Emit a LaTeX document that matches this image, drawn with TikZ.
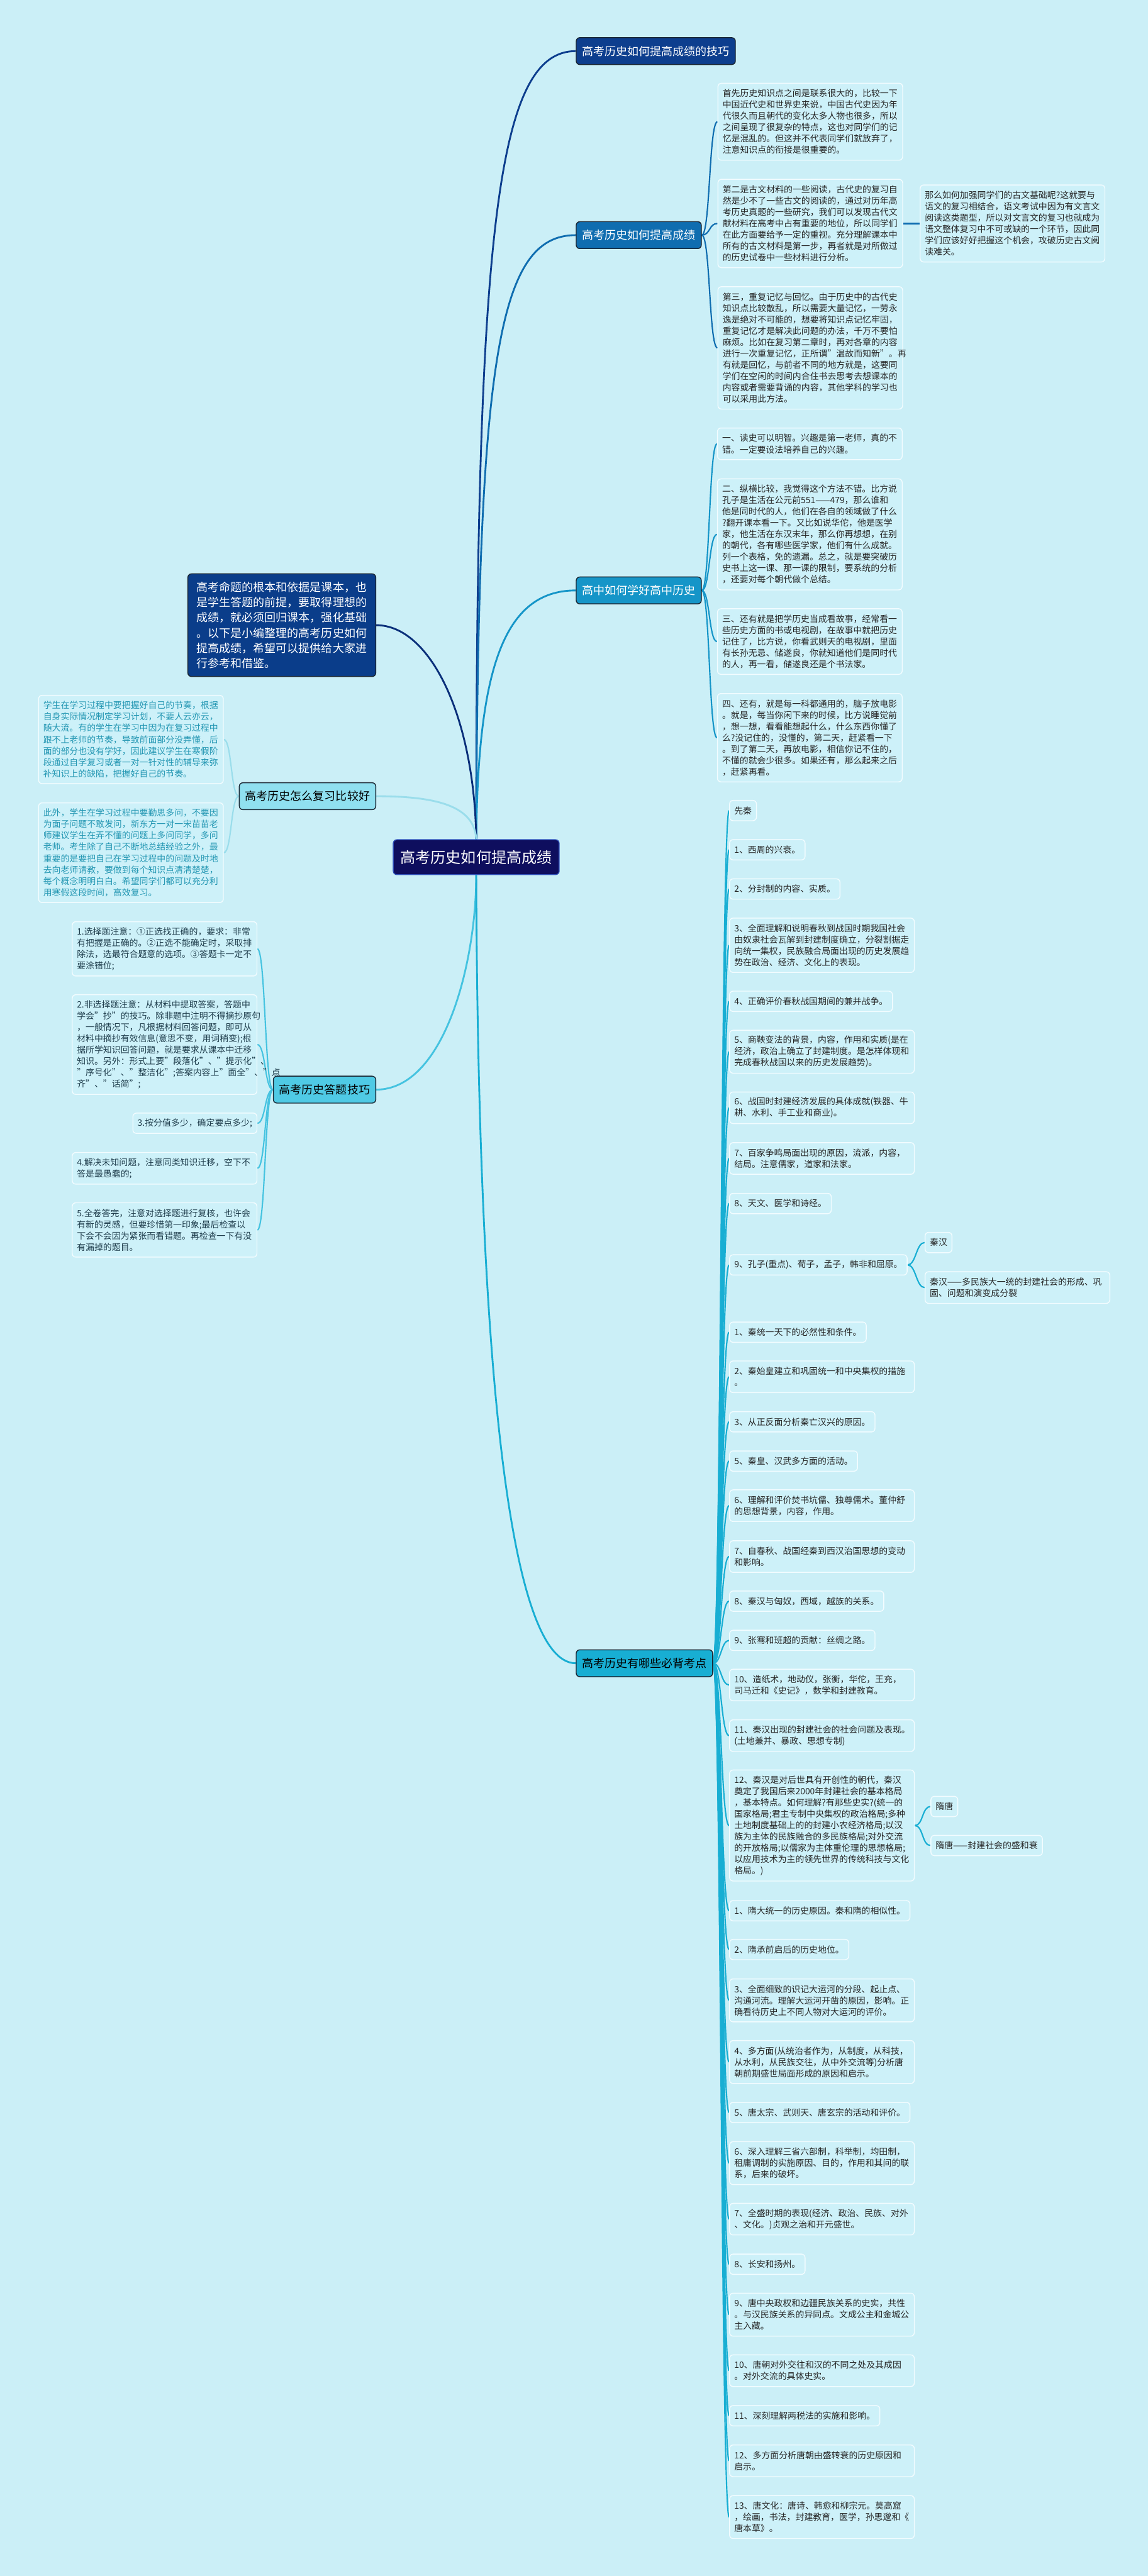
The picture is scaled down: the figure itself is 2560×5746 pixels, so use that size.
\documentclass[tikz,border=0pt]{standalone}
\usepackage{fontspec}
\setmainfont{Noto Sans CJK SC}
\usetikzlibrary{backgrounds}
\definecolor{bgc}{HTML}{CBEFF7}
\definecolor{leafbg}{HTML}{CDF1F9}
\definecolor{leafline}{HTML}{F2FCFF}
\definecolor{leaftxt}{HTML}{262626}
\definecolor{tealtxt}{HTML}{2497B3}
\definecolor{slatetxt}{HTML}{1F3D4C}
\definecolor{brline}{HTML}{1A2633}
\definecolor{ctrc}{HTML}{0E0E5E}
\definecolor{ctrline}{HTML}{2F4FB8}
\definecolor{bonec}{HTML}{0D3E8E}
\definecolor{introc}{HTML}{0A3D8A}
\definecolor{btwoc}{HTML}{0F6DB0}
\definecolor{bthreec}{HTML}{1595C8}
\definecolor{bfivec}{HTML}{18AED3}
\definecolor{bfourc}{HTML}{90E0F0}
\definecolor{bsixc}{HTML}{4FCAE5}
\definecolor{cfour}{HTML}{9ADDEB}
\definecolor{csix}{HTML}{45C3E0}
\definecolor{cintro}{HTML}{0A2F7A}
\newcommand\leaffont{\fontsize{19.5pt}{25.3pt}\selectfont}
\newcommand\brfont{\fontsize{25.3pt}{30pt}\selectfont}
\newcommand\introfont{\fontsize{25.3pt}{33.9pt}\selectfont}
\newcommand\ctrfont{\fontsize{33.8pt}{40pt}\selectfont}
\begin{document}
\begin{tikzpicture}[x=1pt,y=-1pt,
  lf/.style={draw=leafline, line width=2pt, rounded corners=8pt, fill=leafbg, text=leaftxt, font=\leaffont, inner xsep=10.5pt, inner ysep=0pt, align=left},
  lm/.style={lf, text width=391pt},
  r1/.style={minimum height=45.3pt},
  r2/.style={minimum height=70.6pt},
  r3/.style={minimum height=95.9pt},
  r4/.style={minimum height=121.2pt},
  r5/.style={minimum height=146.5pt},
  r6/.style={minimum height=171.8pt},
  r7/.style={minimum height=197.1pt},
  r8/.style={minimum height=222.4pt},
  r9/.style={minimum height=247.7pt},
  r10/.style={minimum height=273pt},
  br/.style={draw=brline, line width=2pt, rounded corners=8pt, font=\brfont, inner xsep=13pt, inner ysep=0pt, minimum height=60pt},
  conn/.style={line width=3pt},
  mconn/.style={line width=4pt}
]
\useasboundingbox (0,0) rectangle (2560,5746);

% ---------- center and branches ----------
\node[draw=ctrline, line width=2pt, rounded corners=8pt, fill=ctrc, text=white, font=\ctrfont, inner xsep=16pt, minimum height=78pt] (ctr) at (1062,1912) {高考历史如何提高成绩};

\node[br, fill=bonec, text=white, anchor=west] (b1) at (1284,114) {高考历史如何提高成绩的技巧};
\node[br, fill=btwoc, text=white, anchor=west] (b2) at (1284,524.5) {高考历史如何提高成绩};
\node[br, fill=bthreec, text=white, anchor=west] (b3) at (1284,1317) {高中如何学好高中历史};
\node[br, fill=bfivec, text=black, anchor=west] (b5) at (1284,3710) {高考历史有哪些必背考点};
\node[br, fill=bfourc, text=black, anchor=east] (b4) at (839,1776) {高考历史怎么复习比较好};
\node[br, fill=bsixc, text=black, anchor=east] (b6) at (839,2430.5) {高考历史答题技巧};

\node[draw=brline, line width=2pt, rounded corners=8pt, fill=introc, text=white, font=\introfont, text width=380pt, inner xsep=19.5pt, inner ysep=0pt, minimum height=229pt, align=left, anchor=east] (intro) at (839,1394.5) {高考命题的根本和依据是课本，也\\是学生答题的前提，要取得理想的\\成绩，就必须回归课本，强化基础\\。以下是小编整理的高考历史如何\\提高成绩，希望可以提供给大家进\\行参考和借鉴。};

% ---------- branch 2 leaves ----------
\node[lm, r6, anchor=west] (ta) at (1600,271.5) {首先历史知识点之间是联系很大的，比较一下\\中国近代史和世界史来说，中国古代史因为年\\代很久而且朝代的变化太多人物也很多，所以\\之间呈现了很复杂的特点，这也对同学们的记\\忆是混乱的。但这并不代表同学们就放弃了，\\注意知识点的衔接是很重要的。};
\node[lm, r7, anchor=west] (tb) at (1600,498.5) {第二是古文材料的一些阅读，古代史的复习自\\然是少不了一些古文的阅读的，通过对历年高\\考历史真题的一些研究，我们可以发现古代文\\献材料在高考中占有重要的地位，所以同学们\\在此方面要给予一定的重视。充分理解课本中\\所有的古文材料是第一步，再者就是对所做过\\的历史试卷中一些材料进行分析。};
\node[lm, r6, anchor=west] (tbx) at (2051,498.5) {那么如何加强同学们的古文基础呢?这就要与\\语文的复习相结合，语文考试中因为有文言文\\阅读这类题型，所以对文言文的复习也就成为\\语文整体复习中不可或缺的一个环节，因此同\\学们应该好好把握这个机会，攻破历史古文阅\\读难关。};
\node[lm, r10, anchor=west] (tc) at (1600,776) {第三，重复记忆与回忆。由于历史中的古代史\\知识点比较散乱，所以需要大量记忆，一劳永\\逸是绝对不可能的，想要将知识点记忆牢固，\\重复记忆才是解决此问题的办法，千万不要怕\\麻烦。比如在复习第二章时，再对各章的内容\\进行一次重复记忆，正所谓"温故而知新"。再\\有就是回忆，与前者不同的地方就是，这要同\\学们在空闲的时间内合住书去思考去想课本的\\内容或者需要背诵的内容，其他学科的学习也\\可以采用此方法。};

% ---------- branch 3 leaves ----------
\node[lm, r2, anchor=west] (ua) at (1599,990) {一、读史可以明智。兴趣是第一老师，真的不\\错。一定要设法培养自己的兴趣。};
\node[lm, r9, anchor=west] (ub) at (1599,1192) {二、纵横比较，我觉得这个方法不错。比方说\\孔子是生活在公元前551——479，那么谁和\\他是同时代的人，他们在各自的领域做了什么\\?翻开课本看一下。又比如说华佗，他是医学\\家，他生活在东汉末年，那么你再想想，在别\\的朝代，各有哪些医学家，他们有什么成就。\\列一个表格，免的遗漏。总之，就是要突破历\\史书上这一课、那一课的限制，要系统的分析\\，还要对每个朝代做个总结。};
\node[lm, r5, anchor=west] (uc) at (1599,1431) {三、还有就是把学历史当成看故事，经常看一\\些历史方面的书或电视剧，在故事中就把历史\\记住了，比方说，你看武则天的电视剧，里面\\有长孙无忌、储遂良，你就知道他们是同时代\\的人，再一看，储遂良还是个书法家。};
\node[lm, r7, anchor=west] (ud) at (1599,1645.5) {四、还有，就是每一科都通用的，脑子放电影\\。就是，每当你闲下来的时候，比方说睡觉前\\，想一想，看看能想起什么，什么东西你懂了\\么?没记住的，没懂的，第二天，赶紧看一下\\。到了第二天，再放电影，相信你记不住的，\\不懂的就会少很多。如果还有，那么起来之后\\，赶紧再看。};

% ---------- branch 4 leaves ----------
\node[lm, r7, text=tealtxt, anchor=west] (va) at (85,1649.5) {学生在学习过程中要把握好自己的节奏，根据\\自身实际情况制定学习计划，不要人云亦云，\\随大流。有的学生在学习中因为在复习过程中\\跟不上老师的节奏，导致前面部分没弄懂，后\\面的部分也没有学好，因此建议学生在寒假阶\\段通过自学复习或者一对一针对性的辅导来弥\\补知识上的缺陷，把握好自己的节奏。};
\node[lm, r8, text=tealtxt, anchor=west] (vb) at (85,1902) {此外，学生在学习过程中要勤思多问，不要因\\为面子问题不敢发问，新东方一对一宋苗苗老\\师建议学生在弄不懂的问题上多问同学，多问\\老师。考生除了自己不断地总结经验之外，最\\重要的是要把自己在学习过程中的问题及时地\\去向老师请教，要做到每个知识点清清楚楚，\\每个概念明明白白。希望同学们都可以充分利\\用寒假这段时间，高效复习。};

% ---------- branch 6 leaves ----------
\node[lm, r4, text=slatetxt, anchor=east] (wa) at (574,2116.5) {1.选择题注意：①正选找正确的，要求：非常\\有把握是正确的。②正选不能确定时，采取排\\除法，选最符合题意的选项。③答题卡一定不\\要涂错位;};
\node[lm, r8, text=slatetxt, anchor=east] (wb) at (574,2330) {2.非选择题注意：从材料中提取答案，答题中\\学会"抄"的技巧。除非题中注明不得摘抄原句\\，一般情况下，凡根据材料回答问题，即可从\\材料中摘抄有效信息(意思不变，用词稍变);根\\据所学知识回答问题，就是要求从课本中迁移\\知识。另外：形式上要"段落化"、"提示化"、\\"序号化"、"整洁化";答案内容上"面全"、"点\\齐"、"话简";};
\node[lf, r1, text=slatetxt, anchor=east] (wc) at (574,2505.5) {3.按分值多少，确定要点多少;};
\node[lm, r2, text=slatetxt, anchor=east] (wd) at (574,2606) {4.解决未知问题，注意同类知识迁移，空下不\\答是最愚蠢的;};
\node[lm, r4, text=slatetxt, anchor=east] (we) at (574,2743.5) {5.全卷答完，注意对选择题进行复核，也许会\\有新的灵感，但要珍惜第一印象;最后检查以\\下会不会因为紧张而看错题。再检查一下有没\\有漏掉的题目。};

% ---------- branch 5 leaves ----------
\node[lf, r1, anchor=west] (xq) at (1626,1808) {先秦};
\node[lf, r1, anchor=west] (q1) at (1626,1895.5) {1、西周的兴衰。};
\node[lf, r1, anchor=west] (q2) at (1626,1983) {2、分封制的内容、实质。};
\node[lm, r4, anchor=west] (q3) at (1626,2108.5) {3、全面理解和说明春秋到战国时期我国社会\\由奴隶社会瓦解到封建制度确立，分裂割据走\\向统一集权，民族融合局面出现的历史发展趋\\势在政治、经济、文化上的表现。};
\node[lf, r1, anchor=west] (q4) at (1626,2233.5) {4、正确评价春秋战国期间的兼并战争。};
\node[lm, r3, anchor=west] (q5) at (1626,2346) {5、商鞅变法的背景，内容，作用和实质(是在\\经济，政治上确立了封建制度。是怎样体现和\\完成春秋战国以来的历史发展趋势)。};
\node[lm, r2, anchor=west] (q6) at (1626,2471) {6、战国时封建经济发展的具体成就(铁器、牛\\耕、水利、手工业和商业)。};
\node[lm, r2, anchor=west] (q7) at (1626,2584) {7、百家争鸣局面出现的原因，流派，内容，\\结局。注意儒家，道家和法家。};
\node[lf, r1, anchor=west] (q8) at (1626,2684.5) {8、天文、医学和诗经。};
\node[lf, r1, anchor=west] (q9) at (1626,2821.5) {9、孔子(重点)、荀子，孟子，韩非和屈原。};
\node[lf, r1, anchor=west] (q9a) at (2062,2771.5) {秦汉};
\node[lm, r2, anchor=west] (q9b) at (2062,2872) {秦汉——多民族大一统的封建社会的形成、巩\\固、问题和演变成分裂};
\node[lf, r1, anchor=west] (h1) at (1626,2971.5) {1、秦统一天下的必然性和条件。};
\node[lm, r2, anchor=west] (h2) at (1626,3071) {2、秦始皇建立和巩固统一和中央集权的措施\\。};
\node[lf, r1, anchor=west] (h3) at (1626,3171.5) {3、从正反面分析秦亡汉兴的原因。};
\node[lf, r1, anchor=west] (h5) at (1626,3259) {5、秦皇、汉武多方面的活动。};
\node[lm, r2, anchor=west] (h6) at (1626,3358.5) {6、理解和评价焚书坑儒、独尊儒术。董仲舒\\的思想背景，内容，作用。};
\node[lm, r2, anchor=west] (h7) at (1626,3472) {7、自春秋、战国经秦到西汉治国思想的变动\\和影响。};
\node[lf, r1, anchor=west] (h8) at (1626,3571.5) {8、秦汉与匈奴，西域，越族的关系。};
\node[lf, r1, anchor=west] (h9) at (1626,3659) {9、张骞和班超的贡献：丝绸之路。};
\node[lm, r2, anchor=west] (h10) at (1626,3758.5) {10、造纸术，地动仪，张衡，华佗，王充，\\司马迁和《史记》，数学和封建教育。};
\node[lm, r2, anchor=west] (h11) at (1626,3871.5) {11、秦汉出现的封建社会的社会问题及表现。\\(土地兼并、暴政、思想专制)};
\node[lm, r9, anchor=west] (h12) at (1626,4072) {12、秦汉是对后世具有开创性的朝代，秦汉\\奠定了我国后来2000年封建社会的基本格局\\，基本特点。如何理解?有那些史实?(统一的\\国家格局;君主专制中央集权的政治格局;多种\\土地制度基础上的的封建小农经济格局;以汉\\族为主体的民族融合的多民族格局;对外交流\\的开放格局;以儒家为主体重伦理的思想格局;\\以应用技术为主的领先世界的传统科技与文化\\格局。)};
\node[lf, r1, anchor=west] (h12a) at (2075,4029.5) {隋唐};
\node[lf, r1, anchor=west] (h12b) at (2075,4116.5) {隋唐——封建社会的盛和衰};
\node[lf, r1, anchor=west] (s1) at (1626,4262) {1、隋大统一的历史原因。秦和隋的相似性。};
\node[lf, r1, anchor=west] (s2) at (1626,4348.5) {2、隋承前启后的历史地位。};
\node[lm, r3, anchor=west] (s3) at (1626,4462) {3、全面细致的识记大运河的分段、起止点、\\沟通河流。理解大运河开凿的原因，影响。正\\确看待历史上不同人物对大运河的评价。};
\node[lm, r3, anchor=west] (s4) at (1626,4599.5) {4、多方面(从统治者作为，从制度，从科技，\\从水利，从民族交往，从中外交流等)分析唐\\朝前期盛世局面形成的原因和启示。};
\node[lf, r1, anchor=west] (s5) at (1626,4712) {5、唐太宗、武则天、唐玄宗的活动和评价。};
\node[lm, r3, anchor=west] (s6) at (1626,4825) {6、深入理解三省六部制，科举制，均田制，\\租庸调制的实施原因、目的，作用和其间的联\\系，后来的破坏。};
\node[lm, r2, anchor=west] (s7) at (1626,4950) {7、全盛时期的表现(经济、政治、民族、对外\\、文化。)贞观之治和开元盛世。};
\node[lf, r1, anchor=west] (s8) at (1626,5050.5) {8、长安和扬州。};
\node[lm, r3, anchor=west] (s9) at (1626,5163) {9、唐中央政权和边疆民族关系的史实，共性\\。与汉民族关系的异同点。文成公主和金城公\\主入藏。};
\node[lm, r2, anchor=west] (s10) at (1626,5288) {10、唐朝对外交往和汉的不同之处及其成因\\。对外交流的具体史实。};
\node[lf, r1, anchor=west] (s11) at (1626,5388.5) {11、深刻理解两税法的实施和影响。};
\node[lm, r2, anchor=west] (s12) at (1626,5489) {12、多方面分析唐朝由盛转衰的历史原因和\\启示。};
\node[lm, r3, anchor=west] (s13) at (1626,5614.5) {13、唐文化：唐诗、韩愈和柳宗元。莫高窟\\，绘画，书法，封建教育，医学，孙思邈和《\\唐本草》。};

% ---------- connectors ----------
\begin{pgfonlayer}{background}
\fill[bgc] (0,0) rectangle (2560,5746);
\draw[mconn, bonec] (ctr.north) .. controls (1062,500) and (1110,114) .. (b1.west);
\draw[mconn, btwoc] (ctr.north) .. controls (1066,800) and (1110,524.5) .. (b2.west);
\draw[mconn, bthreec] (ctr.north) .. controls (1066,1500) and (1120,1317) .. (b3.west);
\draw[mconn, cintro] (intro.east) .. controls (960,1394.5) and (1058,1600) .. (ctr.north);
\draw[mconn, cfour] (b4.east) .. controls (980,1776) and (1058,1800) .. (ctr.north);
\draw[mconn, csix] (b6.east) .. controls (990,2430.5) and (1062,2150) .. (ctr.south);
\draw[mconn, bfivec] (ctr.south) .. controls (1066,3000) and (1130,3710) .. (b5.west);
\foreach \n in {ta,tb,tc}
  \draw[conn, btwoc] (b2.east) .. controls +(19,0) and +(-19,0) .. (\n.west);
\draw[mconn, btwoc] (tb.east) -- (tbx.west);
\foreach \n in {ua,ub,uc,ud}
  \draw[conn, bthreec] (b3.east) .. controls +(18,0) and +(-18,0) .. (\n.west);
\foreach \n in {va,vb}
  \draw[conn, cfour] (b4.west) .. controls +(-18,0) and +(18,0) .. (\n.east);
\foreach \n in {wa,wb,wc,wd,we}
  \draw[conn, csix] (b6.west) .. controls +(-18,0) and +(18,0) .. (\n.east);
\foreach \n in {xq,q1,q2,q3,q4,q5,q6,q7,q8,q9,h1,h2,h3,h5,h6,h7,h8,h9,h10,h11,h12,s1,s2,s3,s4,s5,s6,s7,s8,s9,s10,s11,s12,s13}
  \draw[conn, bfivec] (b5.east) .. controls +(18,0) and +(-18,0) .. (\n.west);
\foreach \n in {q9a,q9b}
  \draw[conn, bfivec] (q9.east) .. controls +(19,0) and +(-19,0) .. (\n.west);
\foreach \n in {h12a,h12b}
  \draw[conn, bfivec] (h12.east) .. controls +(19,0) and +(-19,0) .. (\n.west);
\end{pgfonlayer}
\end{tikzpicture}
\end{document}
